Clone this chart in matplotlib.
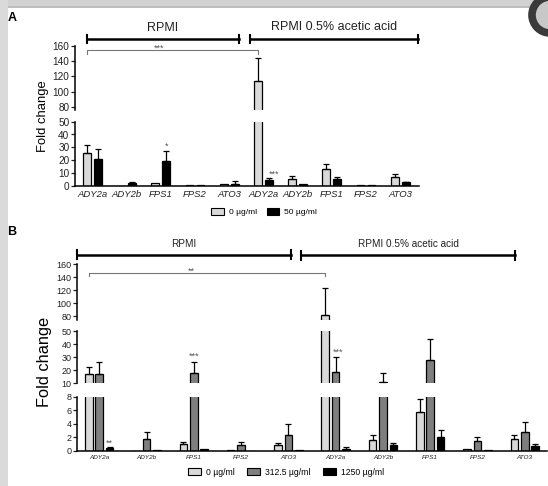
import numpy as np
import matplotlib
matplotlib.use('Agg')
import matplotlib.pyplot as plt
import matplotlib.transforms as mtrans
from matplotlib.patches import Patch, Rectangle, Circle

plt.rcParams['font.family'] = ['Liberation Sans', 'DejaVu Sans']

# data
genes = ['ADY2a', 'ADY2b', 'FPS1', 'FPS2', 'ATO3'] * 2

# panel A: 0 and 50 ug/ml
a_0 = [25.8, 0.0, 2.2, 0.3, 1.0, 113.7, 5.2, 13.0, 0.5, 6.5]
a_0_err = [5.8, 0.0, 0.0, 0.0, 0.0, 29.8, 2.6, 3.7, 0.0, 2.4]
a_50 = [21.0, 2.2, 19.5, 0.6, 1.6, 4.2, 1.5, 5.0, 0.3, 2.5]
a_50_err = [7.7, 0.4, 7.5, 0.0, 1.7, 2.0, 0.0, 1.5, 0.0, 0.5]

# panel B: 0, 312.5 and 1250 ug/ml
b_0 = [16.9, 0.0, 1.0, 0.15, 0.8, 82.0, 1.6, 5.8, 0.3, 1.7]
b_0_err = [5.9, 0.0, 0.3, 0.0, 0.4, 42.0, 0.7, 1.9, 0.0, 0.6]
b_312 = [17.0, 1.7, 18.2, 0.85, 2.4, 18.7, 11.2, 28.2, 1.4, 2.8]
b_312_err = [9.6, 1.0, 8.0, 0.4, 1.6, 11.3, 6.8, 15.6, 0.6, 1.4]
b_1250 = [0.4, 0.15, 0.2, 0.0, 0.15, 0.3, 0.8, 2.1, 0.1, 0.65]
b_1250_err = [0.1, 0.0, 0.0, 0.0, 0.0, 0.2, 0.3, 0.9, 0.0, 0.35]

LIGHT = '#d9d9d9'
DARK = '#7f7f7f'
BLACK = '#000000'

W, H = 548, 486
fig = plt.figure(figsize=(W / 100, H / 100), dpi=100)


def fy(y):
    return 1 - y / H


def px_axes(x0, x1, ytop, ybot):
    ax = fig.add_axes([x0 / W, fy(ybot), (x1 - x0) / W, (ybot - ytop) / H])
    ax.set_facecolor('none')
    return ax


# screenshot frame
bg = fig.add_axes([0, 0, 1, 1], zorder=-5)
bg.set_xlim(0, W)
bg.set_ylim(H, 0)
bg.axis('off')
bg.add_patch(Rectangle((0, 0), W, 8, color='#d2d2d2', lw=0))
bg.add_patch(Rectangle((0, 6), W, 2, color='#bdbdbd', lw=0))
bg.add_patch(Rectangle((0, 0), 8, H, color='#dadada', lw=0))
bg.add_patch(Circle((550, 15), 18, facecolor='#c8c8c8', edgecolor='#3a3a3a', lw=5.5))


def draw_segment(ax, x, series, errs, colors, offsets, width, ylim, ticks, labelsize, bottom=False):
    for vals, err, col, off in zip(series, errs, colors, offsets):
        vals = np.array(vals)
        err = np.array(err)
        ax.bar(x + off, vals, width, color=col, edgecolor='black', linewidth=0.9, zorder=2)
        m = err > 0
        ax.errorbar(x[m] + off, vals[m], yerr=[np.zeros(m.sum()), err[m]], fmt='none',
                    ecolor='black', elinewidth=0.9, capsize=1.9, capthick=0.9, zorder=3)
    ax.set_ylim(*ylim)
    ax.set_yticks(ticks)
    ax.tick_params(axis='y', length=3, width=0.9, pad=1, labelsize=labelsize, colors='#222222')
    for s in ['top', 'right']:
        ax.spines[s].set_visible(False)
    ax.spines['left'].set_linewidth(1.1)
    if bottom:
        ax.spines['bottom'].set_linewidth(1.1)
    else:
        ax.spines['bottom'].set_visible(False)
        ax.set_xticks([])


def group_bracket(ax, x0, x1, ypx, ytext, label, fs):
    tr = mtrans.blended_transform_factory(ax.transData, fig.transFigure)
    ax.plot([x0, x1], [fy(ypx)] * 2, transform=tr, color='black', lw=1.8, clip_on=False)
    for xx in (x0, x1):
        ax.plot([xx, xx], [fy(ypx - 4), fy(ypx + 4)], transform=tr, color='black', lw=1.5,
                clip_on=False)
    ax.text((x0 + x1) / 2, fy(ytext), label, transform=tr, ha='center', va='center',
            fontsize=fs, color='#222222')


def sig_bracket(ax, x0, x1, y, drop, xt, label):
    ax.plot([x0, x0, x1, x1], [y - drop, y, y, y - drop], color='#777777', lw=0.8, clip_on=False)
    ax.annotate(label, (xt, y), xytext=(0, -2.2), textcoords='offset points',
                ha='center', va='bottom', fontsize=6.5, color='#555555', annotation_clip=False)


STAR = dict(ha='center', va='bottom', fontsize=6.5, color='#555555')

x = np.arange(len(genes))

# ---------------- panel A ----------------
a_series = [a_0, a_50]
a_errs = [a_0_err, a_50_err]
a_cols = [LIGHT, BLACK]
a_off = [-0.16, 0.16]
a_w = 0.23
a_xlim = (-0.51, 9.55)

axA_up = px_axes(75, 419, 45.7, 110.1)
axA_lo = px_axes(75, 419, 121.7, 185.7)
draw_segment(axA_up, x, a_series, a_errs, a_cols, a_off, a_w, (76, 160),
             [80, 100, 120, 140, 160], 7.2)
draw_segment(axA_lo, x, a_series, a_errs, a_cols, a_off, a_w, (0, 50),
             [0, 10, 20, 30, 40, 50], 7.2, bottom=True)
for ax in (axA_up, axA_lo):
    ax.set_xlim(*a_xlim)
axA_lo.set_xticks(x)
axA_lo.set_xticklabels(genes, fontstyle='italic', fontsize=6.8)
axA_lo.tick_params(axis='x', length=0, pad=3, colors='#222222')

group_bracket(axA_up, -0.16, 4.29, 39, 28, 'RPMI', 9)
group_bracket(axA_up, 4.61, 9.52, 39, 27, 'RPMI 0.5% acetic acid', 9)
sig_bracket(axA_up, -0.16, 4.84, 154.5, 5, 1.96, '***')
axA_lo.text(2.16, 27.5, '*', **STAR)
axA_lo.text(5.32, 5.5, '***', **STAR)

fig.text(43 / W, fy(116), 'Fold change', rotation=90, ha='center', va='center', fontsize=9.4)
fig.text(12 / W, fy(18), 'A', fontsize=9, fontweight='bold', ha='center', va='center')

legA = [Patch(facecolor=LIGHT, edgecolor='black', lw=0.8, label='0 µg/ml'),
        Patch(facecolor=BLACK, edgecolor='black', lw=0.8, label='50 µg/ml')]
fig.legend(handles=legA, loc='center', bbox_to_anchor=(264 / W, fy(212)), ncol=2,
           frameon=False, fontsize=6, handlelength=1.5, handleheight=0.9,
           columnspacing=1.2, handletextpad=0.6)

# ---------------- panel B ----------------
b_series = [b_0, b_312, b_1250]
b_errs = [b_0_err, b_312_err, b_1250_err]
b_cols = [LIGHT, DARK, BLACK]
b_off = [-0.22, 0.0, 0.22]
b_w = 0.16
b_xlim = (-0.47, 9.47)

axB_up = px_axes(77, 547, 264.3, 319.6)
axB_mid = px_axes(77, 547, 331.0, 383.3)
axB_lo = px_axes(77, 547, 396.7, 450.7)
draw_segment(axB_up, x, b_series, b_errs, b_cols, b_off, b_w, (75, 160),
             [80, 100, 120, 140, 160], 6.5)
draw_segment(axB_mid, x, b_series, b_errs, b_cols, b_off, b_w, (10, 50),
             [10, 20, 30, 40, 50], 6.5)
draw_segment(axB_lo, x, b_series, b_errs, b_cols, b_off, b_w, (0, 8),
             [0, 2, 4, 6, 8], 6.5, bottom=True)
for ax in (axB_up, axB_mid, axB_lo):
    ax.set_xlim(*b_xlim)
axB_lo.set_xticks(x)
axB_lo.set_xticklabels(genes, fontstyle='italic', fontsize=4.6)
axB_lo.tick_params(axis='x', length=0, pad=3, colors='#222222')

group_bracket(axB_up, -0.47, 4.06, 254.5, 244, 'RPMI', 7.2)
group_bracket(axB_up, 4.27, 8.79, 255.5, 244, 'RPMI 0.5% acetic acid', 7.2)
sig_bracket(axB_up, -0.22, 4.78, 146.5, 5, 1.94, '**')
axB_lo.text(0.22, 0.45, '**', **STAR)
axB_mid.text(2.0, 27.0, '***', **STAR)
axB_mid.text(5.05, 30.5, '***', **STAR)

fig.text(45 / W, fy(362), 'Fold change', rotation=90, ha='center', va='center', fontsize=11.8)
fig.text(12 / W, fy(232), 'B', fontsize=9, fontweight='bold', ha='center', va='center')

legB = [Patch(facecolor=LIGHT, edgecolor='black', lw=0.8, label='0 µg/ml'),
        Patch(facecolor=DARK, edgecolor='black', lw=0.8, label='312.5 µg/ml'),
        Patch(facecolor=BLACK, edgecolor='black', lw=0.8, label='1250 µg/ml')]
fig.legend(handles=legB, loc='center', bbox_to_anchor=(286 / W, fy(472)), ncol=3,
           frameon=False, fontsize=6.2, handlelength=1.5, handleheight=0.9,
           columnspacing=1.4, handletextpad=0.6)

fig.savefig('out.png', dpi=100)
